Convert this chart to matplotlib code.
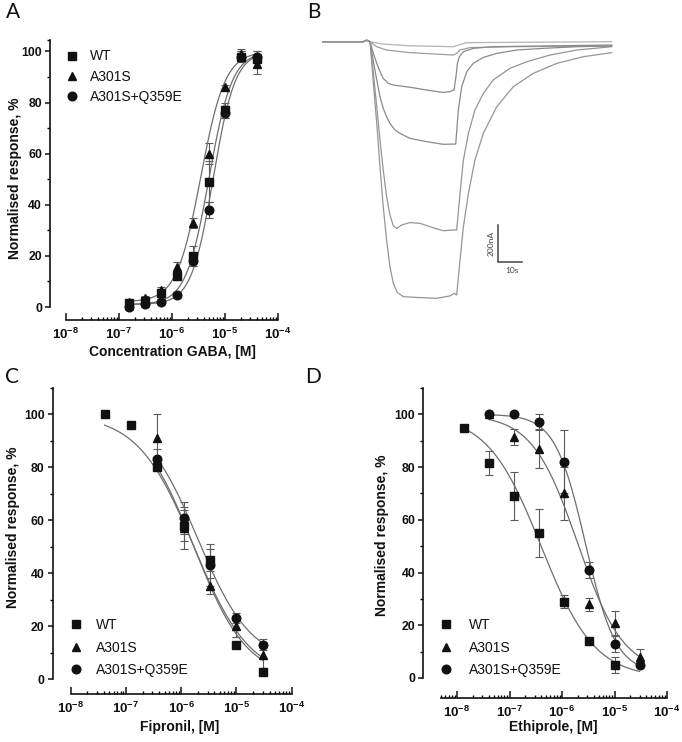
import numpy as np
import matplotlib
matplotlib.use('Agg')
import matplotlib.pyplot as plt
from matplotlib.ticker import FixedLocator, FuncFormatter, NullFormatter
from matplotlib.lines import Line2D

plt.rcParams['font.family'] = ['Liberation Sans', 'DejaVu Sans']
plt.rcParams['mathtext.fontset'] = 'custom'
plt.rcParams['mathtext.rm'] = 'Liberation Sans:bold'
plt.rcParams['mathtext.bf'] = 'Liberation Sans:bold'
plt.rcParams['mathtext.it'] = 'Liberation Sans:bold'

# ---------------- data ----------------
labels = ['WT', 'A301S', 'A301S+Q359E']
markers = ['s', '^', 'o']

# Panel A: GABA concentration-response
gaba_conc = [1.5625e-7, 3.125e-7, 6.25e-7, 1.25e-6, 2.5e-6, 5e-6, 1e-5, 2e-5, 4e-5]
gaba_wt = [1.7, 2.5, 5.6, 12, 20, 49, 77, 98, 97]
gaba_wt_err = [1, 1, 1, 1.5, 4, 8, 3, 2, 3]
gaba_a301s = [2.1, 3.4, 6.7, 15.5, 33, 60, 86, 99, 95]
gaba_a301s_err = [1, 1, 1, 2, 2, 4, 1, 2, 4]
gaba_dm = [0, 1, 2, 4.7, 18, 38, 76, 98, 98]
gaba_dm_err = [1, 1, 1, 1, 2, 3, 2, 2, 2]
# Hill fit parameters: bottom, top, EC50, nH
gaba_fit_wt = [1, 100, 5.0e-6, 2.0]
gaba_fit_a301s = [2, 100, 3.5e-6, 1.9]
gaba_fit_dm = [1, 100, 6.0e-6, 2.1]

# Panel C: Fipronil inhibition
fip_conc_wt = [4.1e-8, 1.23e-7, 3.7e-7, 1.11e-6, 3.33e-6, 1e-5, 3e-5]
fip_wt = [100, 96, 80, 58, 45, 13, 2.5]
fip_wt_err = [0, 0, 1, 6, 4, 1, 1]
fip_conc = [3.7e-7, 1.11e-6, 3.33e-6, 1e-5, 3e-5]
fip_a301s = [91, 57, 35, 20, 9]
fip_a301s_err = [9, 8, 3, 4, 5]
fip_dm = [83, 61, 43, 23, 13]
fip_dm_err = [4, 6, 8, 2, 2]
fip_fit_wt = [0, 100, 1.7e-6, 0.85]
fip_fit_a301s = [0, 100, 1.7e-6, 0.9]
fip_fit_dm = [6, 100, 2.0e-6, 0.9]

# Panel D: Ethiprole inhibition
eth_conc_wt = [1.37e-8, 4.1e-8, 1.23e-7, 3.7e-7, 1.11e-6, 3.33e-6, 1e-5]
eth_wt = [95, 81.5, 69, 55, 29, 14, 5]
eth_wt_err = [0, 4.5, 9, 9, 2.5, 1, 3]
eth_conc = [4.1e-8, 1.23e-7, 3.7e-7, 1.11e-6, 3.33e-6, 1e-5, 3e-5]
eth_a301s = [100, 91.5, 87, 70, 28, 21, 8]
eth_a301s_err = [0, 3, 7.5, 10, 2.5, 4.5, 3]
eth_dm = [100, 100, 97, 82, 41, 13, 5]
eth_dm_err = [0, 0, 3, 12, 3, 3, 1]
eth_fit_wt = [0, 100, 4.0e-7, 0.85]
eth_fit_a301s = [2, 100, 2.0e-6, 1.0]
eth_fit_dm = [2, 100, 2.8e-6, 1.5]

# Panel B: current traces (time in s, current in nA)
tr1_t = [0, 16.8, 18.2, 19.6, 25.1, 36.2, 54.3, 56.4, 59.9, 120.3]
tr1_i = [0, 0, 8, 0, -13, -22, -27, -18, -5, 0]
tr2_t = [0, 16.8, 18.2, 19.6, 22.4, 26.5, 36.2, 54.3, 55.7, 57.1, 61.2, 77.9, 120.3]
tr2_i = [0, 0, 8, 0, -27, -45, -59, -72, -63, -45, -32, -27, -23]
tr3_t = [0, 16.8, 18.2, 19.6, 21.0, 22.4, 23.75, 25.1, 27.2, 29.3, 36.2, 43.2, 50.1, 52.9, 54.3,
         54.6, 55.4, 56.0, 56.8, 58.5, 62.6, 70.9, 91.8, 120.3]
tr3_i = [0, 0, 8, 0, -63, -117, -162, -198, -225, -234, -246, -261, -274, -270, -261,
         -261, -189, -117, -81, -54, -36, -27, -23, -18]
tr4_t = [0, 16.8, 18.2, 19.6, 21.0, 22.4, 23.75, 25.1, 26.5, 27.9, 30.0, 32.1, 36.2, 43.2, 50.1, 54.3,
         55.3, 56.4, 57.8, 59.9, 62.6, 66.8, 72.4, 80.7, 91.8, 105.7, 120.3]
tr4_i = [0, 0, 8, 0, -108, -207, -297, -360, -405, -441, -477, -495, -522, -540, -554, -553,
         -553, -369, -243, -162, -117, -85, -63, -45, -36, -27, -23]
tr5_t = [0, 16.8, 18.2, 19.6, 21.0, 22.4, 23.75, 25.1, 26.5, 27.9, 29.3, 30.7, 32.8, 36.2, 40.4, 45.8,
         50.1, 54.3, 55.7, 57.1, 58.5, 60.6, 63.3, 66.8, 70.9, 77.9, 84.9, 94.6, 105.7, 120.3]
tr5_i = [0, 0, 8, 0, -171, -351, -531, -693, -837, -936, -995, -1008, -990, -977, -981, -1004,
         -1021, -1017, -1017, -819, -639, -495, -369, -279, -207, -144, -108, -72, -45, -27]
tr6_t = [0, 16.8, 18.2, 19.6, 21.0, 22.4, 23.75, 25.1, 26.5, 27.9, 29.3, 31.0, 33.5, 40.4, 47.4, 52.9,
         54.7, 55.7, 57.1, 58.5, 60.6, 63.3, 66.8, 72.4, 79.3, 87.6, 97.4, 108.5, 120.3]
tr6_i = [0, 0, 8, 0, -225, -441, -675, -891, -1071, -1215, -1305, -1355, -1377, -1382, -1386, -1373,
         -1359, -1368, -1179, -999, -819, -639, -495, -351, -243, -171, -117, -81, -59]
traces_t = [tr1_t, tr2_t, tr3_t, tr4_t, tr5_t, tr6_t]
traces_i = [tr1_i, tr2_i, tr3_i, tr4_i, tr5_i, tr6_i]
trace_colors = ['#b4b4b4', '#9e9e9e', '#8a8a8a', '#8a8a8a', '#959595', '#959595']

# ---------------- layout ----------------
W, H = 682, 742
fig = plt.figure(figsize=(W / 100, H / 100), dpi=100)


def px_axes(l, t, r, b):
    return fig.add_axes([l / W, 1 - b / H, (r - l) / W, (b - t) / H])


def hill(x, p):
    bottom, top, x50, n = p
    return bottom + (top - bottom) / (1 + (x50 / x) ** n)


def hill_inh(x, p):
    bottom, top, x50, n = p
    return bottom + (top - bottom) / (1 + (x / x50) ** n)


CURVE = '#6e6e6e'
ERR = '#5a5a5a'
INK = '#111111'
MS = {'s': 6.0, '^': 6.3, 'o': 6.2}


def style_axes(ax, xlim, ylim, left_out, bottom_out):
    ax.set_xscale('log')
    ax.set_xlim(*xlim)
    ax.set_ylim(*ylim)
    for s in ['top', 'right']:
        ax.spines[s].set_visible(False)
    ax.spines['left'].set_position(('outward', left_out * 0.72))
    ax.spines['bottom'].set_position(('outward', bottom_out * 0.72))
    for s in ['left', 'bottom']:
        ax.spines[s].set_linewidth(1.2)
        ax.spines[s].set_color(INK)
    lo = int(np.floor(np.log10(xlim[0])))
    hi = int(np.ceil(np.log10(xlim[1])))
    majors = [10.0 ** k for k in range(lo, hi + 1) if xlim[0] * 0.999 <= 10.0 ** k <= xlim[1] * 1.001]
    minors = [m * 10.0 ** k for k in range(lo, hi) for m in range(2, 10)
              if xlim[0] * 0.999 <= m * 10.0 ** k <= xlim[1]]
    ax.xaxis.set_major_locator(FixedLocator(majors))
    ax.xaxis.set_minor_locator(FixedLocator(minors))
    ax.xaxis.set_major_formatter(FuncFormatter(lambda v, p: r'$10^{%d}$' % round(np.log10(v))))
    ax.xaxis.set_minor_formatter(NullFormatter())
    ax.yaxis.set_major_locator(FixedLocator([0, 20, 40, 60, 80, 100]))
    ax.yaxis.set_minor_locator(FixedLocator([10, 30, 50, 70, 90, ylim[1]]))
    ax.tick_params(axis='x', which='major', direction='in', length=5, width=1.1, labelsize=9.5,
                   pad=5, colors=INK)
    ax.tick_params(axis='x', which='minor', direction='in', length=2.5, width=1.0)
    ax.tick_params(axis='y', which='major', direction='out', length=3.8, width=1.1, labelsize=8.8,
                   pad=2, colors=INK)
    ax.tick_params(axis='y', which='minor', direction='out', length=2.5, width=1.0)
    for lab in ax.get_yticklabels():
        lab.set_fontweight('bold')
    ax.patch.set_visible(False)


def draw_series(ax, x, y, err, marker):
    ax.errorbar(x, y, yerr=err, fmt='none', ecolor=ERR, elinewidth=0.8, capsize=2.8,
                capthick=0.8, zorder=2, clip_on=False)
    ax.plot(x, y, linestyle='none', marker=marker, color=INK, markersize=MS[marker], zorder=4,
            clip_on=False)


def draw_fit(ax, x0, x1, p, fn):
    xs = np.logspace(np.log10(x0), np.log10(x1), 300)
    ax.plot(xs, fn(xs, p), color=CURVE, lw=0.9, zorder=3, clip_on=False)


def add_legend(ax, x_px, y_px, textpad, spacing):
    handles = [Line2D([], [], linestyle='none', marker=m, color=INK, markersize=MS[m]) for m in markers]
    leg = ax.legend(handles, labels, loc='upper left', bbox_to_anchor=(x_px / W, 1 - y_px / H),
                    bbox_transform=fig.transFigure, frameon=False, fontsize=10,
                    handlelength=1.0, handletextpad=textpad, labelspacing=spacing,
                    borderpad=0, borderaxespad=0)
    for t in leg.get_texts():
        t.set_color(INK)


def set_labels(ax, xlabel, xl_pos, ylabel, yl_pos):
    ax.set_xlabel(xlabel, fontsize=10, fontweight='bold', color=INK)
    ax.set_ylabel(ylabel, fontsize=10, fontweight='bold', color=INK)
    ax.xaxis.set_label_coords(*xl_pos)
    ax.yaxis.set_label_coords(*yl_pos)
    ax.xaxis.label.set_va('center')
    ax.yaxis.label.set_va('center')


# ---------------- Panel A ----------------
axA = px_axes(66, 40, 278, 307)
style_axes(axA, (1e-8, 1e-4), (0, 104.5), 16, 13)
gaba_sets = [(gaba_wt, gaba_wt_err, gaba_fit_wt), (gaba_a301s, gaba_a301s_err, gaba_fit_a301s),
             (gaba_dm, gaba_dm_err, gaba_fit_dm)]
for (y, e, p), m in zip(gaba_sets, markers):
    draw_fit(axA, gaba_conc[0], gaba_conc[-1], p, hill)
for (y, e, p), m in zip(gaba_sets, markers):
    draw_series(axA, gaba_conc, y, e, m)
add_legend(axA, 64.7, 49.5, 0.82, 0.44)
set_labels(axA, 'Concentration GABA, [M]', (0.5, -0.1685), 'Normalised response, %', (-0.2406, 0.483))

# ---------------- Panel C ----------------
axC = px_axes(70.7, 388, 291.7, 679)
style_axes(axC, (1e-8, 1e-4), (0, 110), 18, 15)
draw_fit(axC, fip_conc_wt[0], fip_conc_wt[-1], fip_fit_wt, hill_inh)
draw_fit(axC, fip_conc[0], fip_conc[-1], fip_fit_a301s, hill_inh)
draw_fit(axC, fip_conc[0], fip_conc[-1], fip_fit_dm, hill_inh)
draw_series(axC, fip_conc_wt, fip_wt, fip_wt_err, markers[0])
draw_series(axC, fip_conc, fip_a301s, fip_a301s_err, markers[1])
draw_series(axC, fip_conc, fip_dm, fip_dm_err, markers[2])
add_legend(axC, 69, 618, 0.94, 0.62)
set_labels(axC, 'Fipronil, [M]', (0.4946, -0.165), 'Normalised response, %', (-0.263, 0.52))

# ---------------- Panel D ----------------
axD = px_axes(441.2, 388, 667, 678)
style_axes(axD, (5e-9, 1e-4), (0, 110), 18, 20)
draw_fit(axD, eth_conc_wt[0], 3e-5, eth_fit_wt, hill_inh)
draw_fit(axD, eth_conc[0], eth_conc[-1], eth_fit_a301s, hill_inh)
draw_fit(axD, eth_conc[0], eth_conc[-1], eth_fit_dm, hill_inh)
draw_series(axD, eth_conc_wt, eth_wt, eth_wt_err, markers[0])
draw_series(axD, eth_conc, eth_a301s, eth_a301s_err, markers[1])
draw_series(axD, eth_conc, eth_dm, eth_dm_err, markers[2])
add_legend(axD, 438.7, 618, 1.2, 0.62)
set_labels(axD, 'Ethiprole, [M]', (0.496, -0.169), 'Normalised response, %', (-0.26, 0.493))

# ---------------- Panel B ----------------
axB = px_axes(315, 30, 620, 310)
axB.set_xlim(-3.33, 123.75)
axB.set_ylim(-1449, 63.2)
axB.axis('off')
for t, i, c in zip(traces_t, traces_i, trace_colors):
    axB.plot(t, i, color=c, lw=0.9, solid_joinstyle='round')
# scale bar: 10 s, 200 nA
sb_t0, sb_i0 = 72.9, -1190
axB.plot([sb_t0, sb_t0, sb_t0 + 10], [sb_i0 + 200, sb_i0, sb_i0], color='#444444', lw=1.1,
         solid_joinstyle='miter')
axB.text(70.0, sb_i0 + 100, '200nA', rotation=90, ha='center', va='center', fontsize=6,
         color='#444444', family=['Lato', 'DejaVu Sans'])
axB.text(78.6, -1233, '10s', ha='center', va='center', fontsize=6, color='#444444',
         family=['Lato', 'DejaVu Sans'])

# ---------------- panel letters ----------------
for letter, x, y in [('A', 13, 12.5), ('B', 314, 12.5), ('C', 12.5, 377), ('D', 313, 377)]:
    fig.text(x / W, 1 - y / H, letter, ha='center', va='center', fontsize=15, color=INK,
             family=['Lato', 'DejaVu Sans'])

fig.savefig('out.png', dpi=100)
